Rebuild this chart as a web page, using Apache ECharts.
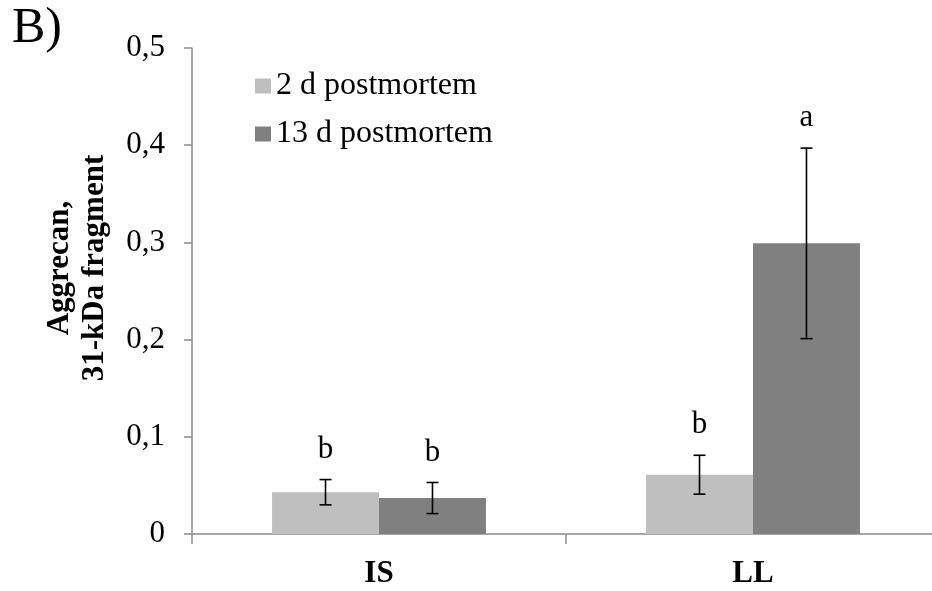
<!DOCTYPE html>
<html>
<head>
<meta charset="utf-8">
<script src="https://cdn.jsdelivr.net/npm/echarts@6/dist/echarts.min.js"></script>
<style>html,body{margin:0;padding:0;background:#fff}#c{width:932px;height:591px}</style>
</head>
<body>
<div id="c"></div>
<script>
const categories = ['IS', 'LL'];
const seriesNames = ['2 d postmortem', '13 d postmortem'];
const means2d = [0.043, 0.061];
const means13d = [0.037, 0.299];
const sem2d = [0.013, 0.020];
const sem13d = [0.016, 0.098];
const letters2d = ['b', 'b'];
const letters13d = ['b', 'a'];
const yTicks = [0, 0.1, 0.2, 0.3, 0.4, 0.5];
const yTitleLines = ['Aggrecan,', '31-kDa fragment'];

const FONT = '"Liberation Serif", "Times New Roman", serif';
const BAR_FRAC = 0.286;

function errData(means, sems, letters) {
  return categories.map((c, i) => [i, means[i] - sems[i], means[i] + sems[i], letters[i]]);
}

function makeErr(sign) {
  return function (params, api) {
    const idx = api.value(0);
    const lo = api.coord([idx, api.value(1)]);
    const hi = api.coord([idx, api.value(2)]);
    const band = api.size([1, 0])[0];
    const x = lo[0] + sign * band * BAR_FRAC / 2;
    const cap = 6;
    const st = { stroke: '#000', lineWidth: 1.6 };
    return {
      type: 'group',
      children: [
        { type: 'line', shape: { x1: x, y1: lo[1], x2: x, y2: hi[1] }, style: st },
        { type: 'line', shape: { x1: x - cap, y1: lo[1], x2: x + cap, y2: lo[1] }, style: st },
        { type: 'line', shape: { x1: x - cap, y1: hi[1], x2: x + cap, y2: hi[1] }, style: st },
        { type: 'text', x: x, y: hi[1] - 30, style: { text: api.value(3), fill: '#000', font: '31px ' + FONT, align: 'center', verticalAlign: 'middle' } }
      ]
    };
  };
}

const chart = echarts.init(document.getElementById('c'), null, { renderer: 'canvas' });
chart.setOption({
  animation: false,
  backgroundColor: '#fff',
  title: {
    text: 'B)', left: 12, top: 4, padding: 0,
    textStyle: { fontFamily: FONT, fontSize: 50, fontWeight: 'normal', color: '#000' }
  },
  graphic: [{
    type: 'text', x: 77, y: 268, rotation: Math.PI / 2,
    style: {
      text: yTitleLines.join('\n'), fill: '#000',
      font: 'bold 31px ' + FONT, lineHeight: 35,
      align: 'center', verticalAlign: 'middle'
    }
  }],
  legend: {
    orient: 'vertical', left: 255, top: 70, itemGap: 16, padding: 0,
    itemWidth: 16, itemHeight: 15, icon: 'rect',
    data: seriesNames,
    textStyle: { fontFamily: FONT, fontSize: 32, lineHeight: 32, color: '#000' }
  },
  grid: { left: 192, width: 748, top: 48, bottom: 57, containLabel: false, outerBoundsMode: 'none' },
  xAxis: {
    type: 'category', data: categories,
    axisLine: { lineStyle: { color: '#8c8c8c', width: 1.5 } },
    axisTick: { show: true, length: 10, alignWithLabel: false, lineStyle: { color: '#8c8c8c', width: 1.5 } },
    axisLabel: { margin: 24, fontFamily: FONT, fontSize: 31, fontWeight: 'bold', color: '#000' }
  },
  yAxis: {
    type: 'value', min: 0, max: 0.5, interval: 0.1,
    axisLine: { show: true, lineStyle: { color: '#8c8c8c', width: 1.5 } },
    axisTick: { show: true, length: 8, lineStyle: { color: '#8c8c8c', width: 1.5 } },
    splitLine: { show: false },
    axisLabel: {
      margin: 27, fontFamily: FONT, fontSize: 31, color: '#000',
      formatter: v => (yTicks.indexOf(Math.round(v * 10) / 10) >= 0 ? (v === 0 ? '0' : v.toFixed(1).replace('.', ',')) : '')
    }
  },
  series: [
    { name: seriesNames[0], type: 'bar', data: means2d, barWidth: (BAR_FRAC * 100) + '%', barGap: '0%', itemStyle: { color: '#bfbfbf' } },
    { name: seriesNames[1], type: 'bar', data: means13d, barWidth: (BAR_FRAC * 100) + '%', barGap: '0%', itemStyle: { color: '#808080' } },
    { type: 'custom', renderItem: makeErr(-1), data: errData(means2d, sem2d, letters2d), z: 10, silent: true },
    { type: 'custom', renderItem: makeErr(1), data: errData(means13d, sem13d, letters13d), z: 10, silent: true }
  ]
});
</script>
</body>
</html>
